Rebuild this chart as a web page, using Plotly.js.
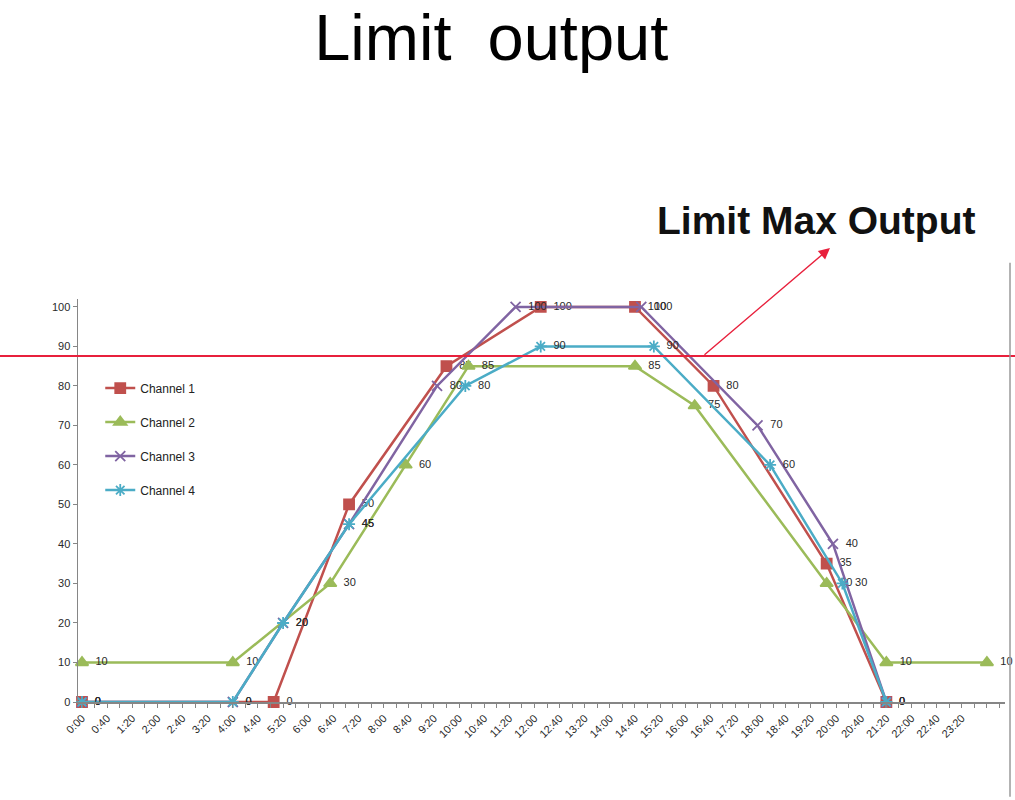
<!DOCTYPE html>
<html>
<head>
<meta charset="utf-8">
<script src="https://cdn.plot.ly/plotly-3.0.1.min.js"></script>
<style>html,body{margin:0;padding:0;background:#fff;}#chart{width:1015px;height:800px;}</style>
</head>
<body>
<div id="chart"></div>
<script>
// ---- data (times as H:MM, values in %) ----
const ch1Times = ["0:00","5:05","7:05","9:40","12:10","14:40","16:45","19:45","21:20"];
const ch1Values = [0,0,50,85,100,100,80,35,0];
const ch2Times = ["0:00","4:00","6:35","8:35","10:15","14:40","16:15","19:45","21:20","24:00"];
const ch2Values = [10,10,30,60,85,85,75,30,10,10];
const ch3Times = ["0:00","4:00","5:20","7:05","9:25","11:30","14:50","17:55","19:55","21:20"];
const ch3Values = [0,0,20,45,80,100,100,70,40,0];
const ch4Times = ["0:00","4:00","5:20","7:05","10:10","12:10","15:10","18:15","20:10","21:20"];
const ch4Values = [0,0,20,45,80,90,90,60,30,0];
const seriesNames = ["Channel 1","Channel 2","Channel 3","Channel 4"];
const xTickLabels = ["0:00","0:40","1:20","2:00","2:40","3:20","4:00","4:40","5:20","6:00","6:40","7:20",
  "8:00","8:40","9:20","10:00","10:40","11:20","12:00","12:40","13:20","14:00","14:40","15:20",
  "16:00","16:40","17:20","18:00","18:40","19:20","20:00","20:40","21:20","22:00","22:40","23:20"];
const yTickValues = [0,10,20,30,40,50,60,70,80,90,100];
const limitValue = 87.6;
const chartTitle = "Limit\u00a0 output";
const limitLabel = "Limit Max Output";

function toHours(s){ const p = s.split(":"); return Number(p[0]) + Number(p[1])/60; }

const FONT = "Liberation Sans, Arial, sans-serif";
const colors = ["#C0504D","#9BBB59","#8064A2","#4BACC6"];
const symbols = ["square","triangle-up","x-thin-open","asterisk-open"];
const sizes = [10,11,10,10];
const allTimes = [ch1Times, ch2Times, ch3Times, ch4Times];
const allValues = [ch1Values, ch2Values, ch3Values, ch4Values];

const traces = seriesNames.map((name,i)=>({
  type:"scatter",
  mode:"lines+markers+text",
  name:name,
  legendgroup:"g"+i,
  x: allTimes[i].map(toHours),
  y: allValues[i],
  text: allValues[i].map(String),
  texttemplate:"\u2002%{text}",
  textposition:"middle right",
  textfont:{family:FONT, size:11, color:"#2a2a2a"},
  line:{color:colors[i], width:2.5},
  marker:{symbol:symbols[i], size:sizes[i], color:colors[i], line:{color:colors[i], width:1.8}},
  cliponaxis:false
}));

const layout = {
  width:1015, height:800,
  paper_bgcolor:"#ffffff", plot_bgcolor:"#ffffff",
  margin:{l:78, r:10, t:299, b:98},
  title:{text:chartTitle, x:0.484, xanchor:"center", xref:"container", y:0.953, yanchor:"middle", yref:"container",
    font:{family:FONT, size:65, color:"#000000"}},
  showlegend:true,
  legend:{x:0.024, y:0.815, xanchor:"left", yanchor:"top", bgcolor:"rgba(0,0,0,0)",
    font:{family:FONT, size:12, color:"#222222"},
    tracegroupgap:15, traceorder:"grouped", itemwidth:30},
  xaxis:{
    range:[-0.106, 24.48],
    tickvals: xTickLabels.map(toHours),
    ticktext: xTickLabels,
    tickangle:-45,
    ticks:"outside", ticklen:4, tickcolor:"#868686",
    minor:{dtick:1/3, tick0:0, ticks:"outside", ticklen:4, tickcolor:"#868686", showgrid:false},
    showline:true, linecolor:"#868686", linewidth:1.5,
    showgrid:false, zeroline:false,
    tickfont:{family:FONT, size:11, color:"#2a2a2a"}
  },
  yaxis:{
    range:[0,102],
    tickvals:yTickValues,
    ticks:"outside", ticklen:4, tickcolor:"#868686",
    showline:true, linecolor:"#868686", linewidth:1.5,
    showgrid:false, zeroline:false,
    tickfont:{family:FONT, size:11, color:"#2a2a2a"}
  },
  shapes:[
    {type:"line", xref:"paper", yref:"y", x0:-0.09, x1:1.02, y0:limitValue, y1:limitValue,
      line:{color:"#E8203C", width:2}},
    {type:"line", xref:"paper", yref:"paper", x0:1.0054, x1:1.0054, y0:-0.235, y1:1.09,
      line:{color:"#9a9a9a", width:1.5}}
  ],
  annotations:[
    {xref:"paper", yref:"paper", x:(816-78)/927, y:(702-220)/403, xanchor:"center", yanchor:"middle",
      text:"<b>"+limitLabel+"</b>", showarrow:false,
      font:{family:FONT, size:39, color:"#111111"}},
    {xref:"paper", yref:"paper", x:(830-78)/927, y:(702-248)/403, text:"", showarrow:true,
      axref:"pixel", ayref:"pixel", ax:-127, ay:108, arrowhead:2, arrowsize:1.6, arrowwidth:1.4,
      arrowcolor:"#E8203C", standoff:0}
  ]
};

Plotly.newPlot("chart", traces, layout, {displayModeBar:false, staticPlot:true});
</script>
</body>
</html>
